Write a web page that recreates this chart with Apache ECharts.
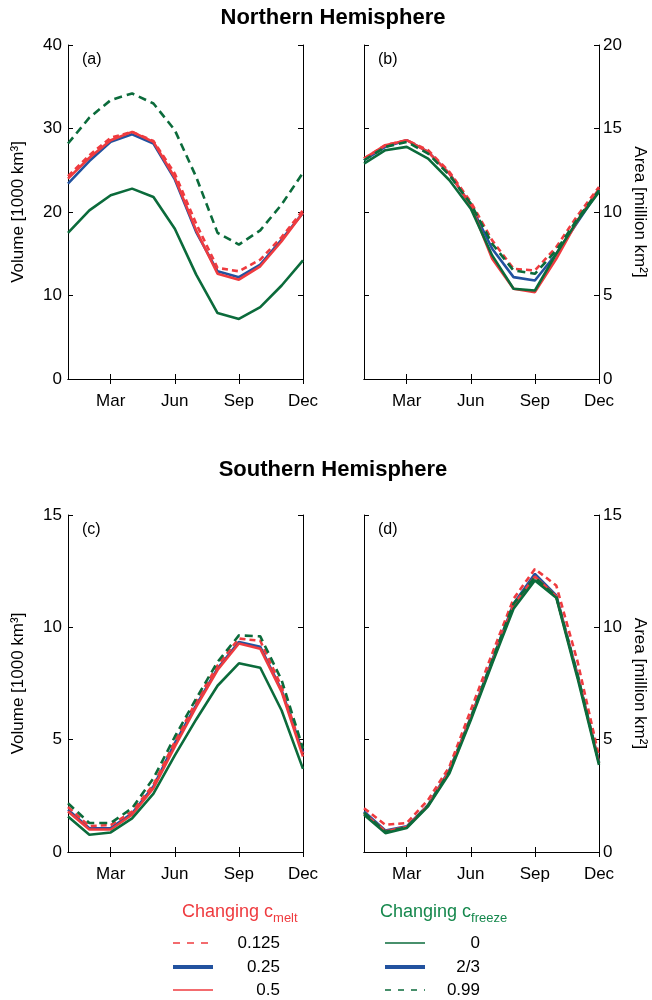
<!DOCTYPE html>
<html>
<head>
<meta charset="utf-8">
<script src="https://cdn.jsdelivr.net/npm/echarts@6/dist/echarts.min.js"></script>
<style>
  html, body { margin: 0; padding: 0; background: #ffffff; }
  #chart { width: 652px; height: 1000px; }
</style>
</head>
<body>
<div id="chart"></div>
<script>
// Monthly categories and the months that carry a label / tick
const months = ['Jan', 'Feb', 'Mar', 'Apr', 'May', 'Jun', 'Jul', 'Aug', 'Sep', 'Oct', 'Nov', 'Dec'];
const labelledMonths = ['Mar', 'Jun', 'Sep', 'Dec'];

// (a) Northern Hemisphere volume [1000 km^3]
const nhVolMelt0125 = [24.3, 26.8, 28.9, 29.6, 28.5, 24.6, 18.6, 13.3, 12.9, 14.3, 17.0, 20.2];
const nhVolBase     = [23.4, 26.1, 28.4, 29.3, 28.2, 23.9, 17.6, 12.9, 12.2, 13.7, 16.7, 19.9];
const nhVolMelt05   = [24.0, 26.5, 28.6, 29.6, 28.4, 24.1, 17.8, 12.6, 11.9, 13.5, 16.5, 19.9];
const nhVolFreeze0  = [17.5, 20.2, 22.0, 22.8, 21.8, 18.0, 12.5, 7.9, 7.2, 8.6, 11.2, 14.2];
const nhVolFreeze99 = [28.2, 31.3, 33.4, 34.2, 33.0, 29.8, 24.2, 17.5, 16.1, 17.8, 20.9, 24.7];

// (b) Northern Hemisphere area [million km^2]
const nhAreaMelt0125 = [13.2, 14.0, 14.3, 13.7, 12.4, 10.6, 8.3, 6.6, 6.5, 7.9, 9.8, 11.5];
const nhAreaBase     = [13.1, 13.9, 14.3, 13.6, 12.3, 10.4, 7.8, 6.1, 5.9, 7.5, 9.4, 11.3];
const nhAreaMelt05   = [13.2, 14.0, 14.3, 13.6, 12.3, 10.4, 7.2, 5.4, 5.2, 7.2, 9.5, 11.4];
const nhAreaFreeze0  = [12.9, 13.7, 13.9, 13.2, 11.9, 10.2, 7.4, 5.4, 5.3, 7.5, 9.5, 11.2];
const nhAreaFreeze99 = [13.1, 13.9, 14.2, 13.5, 12.2, 10.5, 8.1, 6.5, 6.3, 7.7, 9.6, 11.3];

// (c) Southern Hemisphere volume [1000 km^3]
const shVolMelt0125 = [2.0, 1.15, 1.2, 1.8, 3.0, 4.9, 6.7, 8.3, 9.5, 9.4, 7.35, 4.4];
const shVolBase     = [1.88, 1.06, 1.06, 1.72, 2.92, 4.85, 6.54, 8.17, 9.35, 9.13, 7.2, 4.4];
const shVolMelt05   = [1.8, 1.0, 1.0, 1.66, 2.84, 4.69, 6.46, 8.1, 9.28, 9.05, 7.13, 4.25];
const shVolFreeze0  = [1.58, 0.77, 0.87, 1.5, 2.6, 4.3, 5.9, 7.4, 8.4, 8.2, 6.3, 3.7];
const shVolFreeze99 = [2.17, 1.29, 1.29, 1.95, 3.28, 5.13, 6.83, 8.46, 9.64, 9.6, 7.65, 4.6];

// (d) Southern Hemisphere area [million km^2]
const shAreaMelt0125 = [1.95, 1.21, 1.29, 2.32, 3.8, 6.32, 8.83, 11.27, 12.6, 11.86, 8.46, 4.25];
const shAreaBase     = [1.8, 0.96, 1.14, 2.1, 3.65, 6.0, 8.54, 11.05, 12.38, 11.42, 7.87, 4.0];
const shAreaMelt05   = [1.72, 0.92, 1.11, 2.07, 3.61, 5.98, 8.46, 10.98, 12.26, 11.37, 7.82, 3.96];
const shAreaFreeze0  = [1.66, 0.84, 1.07, 2.03, 3.5, 5.87, 8.39, 10.83, 12.09, 11.32, 7.72, 3.88];
const shAreaFreeze99 = [1.75, 0.9, 1.1, 2.07, 3.58, 5.96, 8.52, 11.05, 12.23, 11.37, 7.87, 3.96];

// Legend entries
const meltValues = ['0.125', '0.25', '0.5'];
const freezeValues = ['0', '2/3', '0.99'];

const RED = '#ef3b3f';
const BLUE = '#22529f';
const GREEN = '#0b6b3b';
const GREEN_TEXT = '#16884d';
const FONT = 'Liberation Sans, Arial, Helvetica, sans-serif';

const panels = [
  { left: 68,  top: 45,  width: 235, height: 334, max: 40, interval: 10, side: 'left',
    name: 'Volume [1000 km³]', tag: '(a)',
    data: [nhVolBase, nhVolMelt0125, nhVolMelt05, nhVolFreeze99, nhVolFreeze0] },
  { left: 364, top: 45,  width: 235, height: 334, max: 20, interval: 5, side: 'right',
    name: 'Area [million km²]', tag: '(b)',
    data: [nhAreaBase, nhAreaMelt0125, nhAreaMelt05, nhAreaFreeze99, nhAreaFreeze0] },
  { left: 68,  top: 515, width: 235, height: 337, max: 15, interval: 5, side: 'left',
    name: 'Volume [1000 km³]', tag: '(c)',
    data: [shVolBase, shVolMelt0125, shVolMelt05, shVolFreeze99, shVolFreeze0] },
  { left: 364, top: 515, width: 235, height: 337, max: 15, interval: 5, side: 'right',
    name: 'Area [million km²]', tag: '(d)',
    data: [shAreaBase, shAreaMelt0125, shAreaMelt05, shAreaFreeze99, shAreaFreeze0] }
];

// Line styles, in drawing order: base, c_melt 0.125, c_melt 0.5, c_freeze 0.99, c_freeze 0
const styles = [
  { color: BLUE,  type: 'solid' },
  { color: RED,   type: [6, 4] },
  { color: RED,   type: 'solid' },
  { color: GREEN, type: [8, 5] },
  { color: GREEN, type: 'solid' }
];

const tickAt = (i) => i % 3 === 2;
const axisLine = { show: true, lineStyle: { color: '#000', width: 1 } };
const inTick = { show: true, inside: true, length: 5, lineStyle: { color: '#000', width: 1 } };

const grid = [], xAxis = [], yAxis = [], series = [];

panels.forEach((p, k) => {
  grid.push({ left: p.left, top: p.top, width: p.width, height: p.height, containLabel: false });
  // bottom axis with month labels
  xAxis.push({
    type: 'category', gridIndex: k, data: months, boundaryGap: false, position: 'bottom',
    axisLine, axisTick: Object.assign({}, inTick, { interval: tickAt }),
    axisLabel: {
      interval: tickAt, margin: 14, color: '#000', fontSize: 17, fontFamily: FONT,
      formatter: (v) => labelledMonths.includes(v) ? v : ''
    },
    splitLine: { show: false }
  });
  // labelled value axis
  yAxis.push({
    type: 'value', gridIndex: k, min: 0, max: p.max, interval: p.interval, position: p.side,
    name: p.name, nameLocation: 'middle', nameRotate: p.side === 'left' ? 90 : -90,
    nameGap: p.side === 'left' ? 41 : 32,
    nameTextStyle: { color: '#000', fontSize: 17, fontFamily: FONT },
    axisLine, axisTick: inTick,
    axisLabel: { margin: p.side === 'left' ? 6 : 4, color: '#000', fontSize: 17, fontFamily: FONT },
    splitLine: { show: false }
  });
  p.data.forEach((vals, s) => {
    series.push({
      type: 'line', xAxisIndex: k, yAxisIndex: k, data: vals,
      symbol: 'none', silent: true, animation: false,
      lineStyle: { color: styles[s].color, type: styles[s].type, width: 2.6 },
      z: 2 + s
    });
  });
});

// Mirrored frame axes: top edge and opposite side, ticks only
panels.forEach((p, k) => {
  xAxis.push({
    type: 'category', gridIndex: k, data: months, boundaryGap: false, position: 'top',
    axisLine, axisTick: Object.assign({}, inTick, { interval: tickAt }),
    axisLabel: { show: false }, splitLine: { show: false }
  });
  yAxis.push({
    type: 'value', gridIndex: k, min: 0, max: p.max, interval: p.interval,
    position: p.side === 'left' ? 'right' : 'left',
    axisLine, axisTick: inTick, axisLabel: { show: false }, splitLine: { show: false }
  });
});

// Panel tags and hemisphere headings
const graphic = [];
panels.forEach((p) => {
  graphic.push({
    type: 'text', left: p.left + 14, top: p.top + 7,
    style: { text: p.tag, fontSize: 16, fontFamily: FONT, fill: '#000' }
  });
});
graphic.push({
  type: 'text', x: 333, y: 18,
  style: { text: 'Northern Hemisphere', fontSize: 22, fontWeight: 'bold', fontFamily: FONT,
           fill: '#000', align: 'center', verticalAlign: 'middle' }
});
graphic.push({
  type: 'text', x: 333, y: 470,
  style: { text: 'Southern Hemisphere', fontSize: 22, fontWeight: 'bold', fontFamily: FONT,
           fill: '#000', align: 'center', verticalAlign: 'middle' }
});

// Legend block: two columns, one per tuned parameter
const rowsY = [943, 967, 990];
graphic.push({
  type: 'text', x: 182, y: 912,
  style: {
    text: '{a|Changing c}{s|melt}', verticalAlign: 'middle', fontFamily: FONT,
    rich: {
      a: { fontSize: 18, fill: RED, fontFamily: FONT },
      s: { fontSize: 13, fill: RED, fontFamily: FONT, padding: [12, 0, 0, 0] }
    }
  }
});
graphic.push({
  type: 'text', x: 380, y: 912,
  style: {
    text: '{a|Changing c}{s|freeze}', verticalAlign: 'middle', fontFamily: FONT,
    rich: {
      a: { fontSize: 18, fill: GREEN_TEXT, fontFamily: FONT },
      s: { fontSize: 13, fill: GREEN_TEXT, fontFamily: FONT, padding: [12, 0, 0, 0] }
    }
  }
});
const meltSamples = [
  { stroke: RED, lineWidth: 1.5, lineDash: [7, 7] },
  { stroke: BLUE, lineWidth: 4 },
  { stroke: RED, lineWidth: 1.5 }
];
const freezeSamples = [
  { stroke: GREEN, lineWidth: 1.5 },
  { stroke: BLUE, lineWidth: 4 },
  { stroke: GREEN, lineWidth: 1.5, lineDash: [6, 7] }
];
rowsY.forEach((y, i) => {
  graphic.push({ type: 'line', shape: { x1: 173, y1: y, x2: 213, y2: y }, style: meltSamples[i] });
  graphic.push({
    type: 'text', x: 280, y: y,
    style: { text: meltValues[i], fontSize: 17, fontFamily: FONT, fill: '#000',
             align: 'right', verticalAlign: 'middle' }
  });
  graphic.push({ type: 'line', shape: { x1: 385, y1: y, x2: 425, y2: y }, style: freezeSamples[i] });
  graphic.push({
    type: 'text', x: 480, y: y,
    style: { text: freezeValues[i], fontSize: 17, fontFamily: FONT, fill: '#000',
             align: 'right', verticalAlign: 'middle' }
  });
});

const chart = echarts.init(document.getElementById('chart'), null, { renderer: 'canvas' });
chart.setOption({
  backgroundColor: '#ffffff',
  animation: false,
  grid, xAxis, yAxis, series, graphic
});
</script>
</body>
</html>
